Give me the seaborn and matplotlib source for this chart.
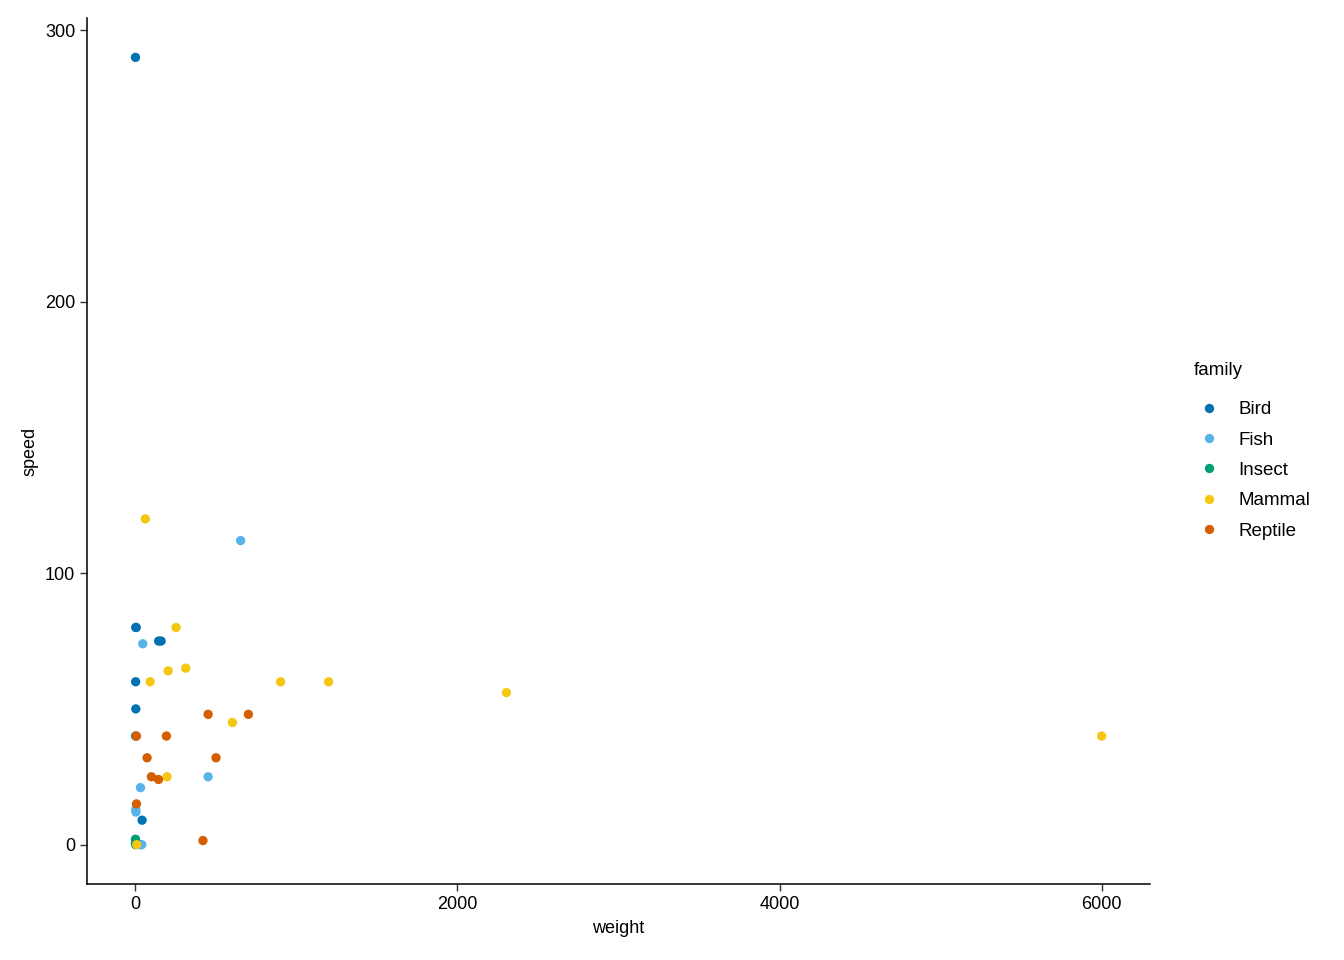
import matplotlib
matplotlib.use("Agg")
import matplotlib.pyplot as plt
import seaborn as sns
import pandas as pd

families = ["Bird", "Fish", "Insect", "Mammal", "Reptile"]
palette_colors = ["#0072B2", "#56B4E9", "#009E73", "#F5C710", "#D55E00"]

bird_weight = [1, 3, 5, 145, 160, 2, 3, 2, 42, 30]
bird_speed = [290, 80, 80, 75, 75, 60, 50, 40, 9, 0]

fish_weight = [654, 46, 452, 32, 3, 4, 40]
fish_speed = [112, 74, 25, 21, 13, 12, 0]

insect_weight = [1, 0.5, 2]
insect_speed = [2, 0.5, 0]

mammal_weight = [62, 253, 313, 204, 92, 902, 1200, 2304, 603, 197, 6000, 9]
mammal_speed = [120, 80, 65, 64, 60, 60, 60, 56, 45, 25, 40, 0]

reptile_weight = [452, 702, 7, 193, 73, 501, 100, 144, 7, 420]
reptile_speed = [48, 48, 40, 40, 32, 32, 25, 24, 15, 1.5]

rows = []
for fam, w, s in [("Bird", bird_weight, bird_speed), ("Fish", fish_weight, fish_speed),
                  ("Insect", insect_weight, insect_speed), ("Mammal", mammal_weight, mammal_speed),
                  ("Reptile", reptile_weight, reptile_speed)]:
    for wi, si in zip(w, s):
        rows.append({"family": fam, "weight": wi, "speed": si})
df = pd.DataFrame(rows)

sns.set_theme(style="ticks")
plt.rcParams["font.family"] = ["Liberation Sans", "DejaVu Sans"]
plt.rcParams["text.color"] = "black"

fig = plt.figure(figsize=(13.44, 9.6), dpi=100)
ax = fig.add_axes([87/1344, 1-884/960, (1150-87)/1344, (884-18)/960])

sns.scatterplot(data=df, x="weight", y="speed", hue="family", hue_order=families,
                palette=dict(zip(families, palette_colors)), s=45, linewidth=0,
                ax=ax, legend=True)

ax.set_xlim(-300, 6300)
ax.set_ylim(-14.5, 304.5)
ax.set_xticks([0, 2000, 4000, 6000])
ax.set_yticks([0, 100, 200, 300])
ax.tick_params(labelsize=13, length=5, width=1.0, colors="#333333", labelcolor="black")
for sp in ["top", "right"]:
    ax.spines[sp].set_visible(False)
for sp in ["left", "bottom"]:
    ax.spines[sp].set_linewidth(1.1)
    ax.spines[sp].set_color("black")
ax.set_xlabel("weight", fontsize=13, labelpad=5, color="black")
ax.set_ylabel("speed", fontsize=13, labelpad=5, color="black")

handles, labels = ax.get_legend_handles_labels()
fig.text(1194/1344, 1-370/960, "family", fontsize=13.5, ha="left", va="center", color="black")
leg = ax.legend(handles, labels, loc="upper left",
                bbox_to_anchor=(1195/1344, 1-401/960), bbox_transform=fig.transFigure,
                frameon=False, fontsize=13.5, markerscale=1.0,
                handlelength=1.45, handletextpad=0.85, labelspacing=0.71, borderaxespad=0,
                borderpad=0)
for t in leg.get_texts():
    t.set_color("black")

fig.savefig("out.png", dpi=100)
